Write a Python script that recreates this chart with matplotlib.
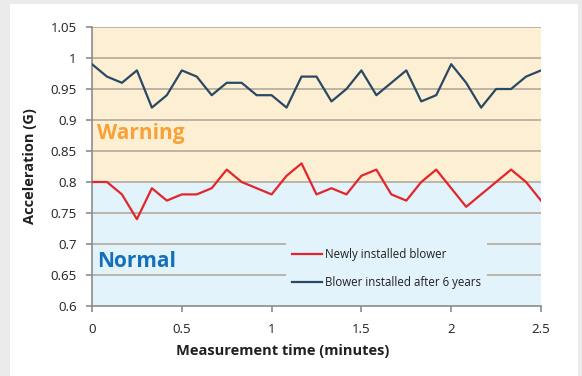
import numpy as np
import matplotlib

matplotlib.use("Agg")
import matplotlib.pyplot as plt

# Sampled every 5 s (1/12 minute) from 0 to 2.5 minutes
time_min = np.arange(31) / 12
new_blower = [0.80, 0.80, 0.78, 0.74, 0.79, 0.77, 0.78, 0.78, 0.79, 0.82, 0.80,
              0.79, 0.78, 0.81, 0.83, 0.78, 0.79, 0.78, 0.81, 0.82, 0.78, 0.77,
              0.80, 0.82, 0.79, 0.76, 0.78, 0.80, 0.82, 0.80, 0.77]
old_blower = [0.99, 0.97, 0.96, 0.98, 0.92, 0.94, 0.98, 0.97, 0.94, 0.96, 0.96,
              0.94, 0.94, 0.92, 0.97, 0.97, 0.93, 0.95, 0.98, 0.94, 0.96, 0.98,
              0.93, 0.94, 0.99, 0.96, 0.92, 0.95, 0.95, 0.97, 0.98]
series_labels = ["Newly installed blower", "Blower installed after 6 years"]
threshold = 0.8

RED = "#e3262b"
NAVY = "#2a4963"
WARN_BG = "#fdefd4"
NORM_BG = "#e2f3fc"
GRID = "#b2aa9c"
TEXT = "#231f20"

plt.rcParams["font.family"] = ["Open Sans", "DejaVu Sans"]

fig = plt.figure(figsize=(5.82, 3.76), dpi=100, facecolor="#ebebeb")
# white panel behind the chart
fig.patches.append(plt.Rectangle((10 / 582, 0), 568 / 582, 372 / 376,
                                 transform=fig.transFigure, facecolor="white",
                                 edgecolor="none", zorder=-5))
ax = fig.add_axes([92 / 582, (376 - 306) / 376, 449 / 582, 279 / 376])
ax.set_xlim(0, 2.5)
ax.set_ylim(0.6, 1.05)

ax.axhspan(threshold, 1.05, color=WARN_BG, zorder=0)
ax.axhspan(0.6, threshold, color=NORM_BG, zorder=0)

yticks = np.round(np.arange(0.6, 1.051, 0.05), 2)
for y in yticks[1:]:
    ax.axhline(y, color=GRID, lw=1.2, zorder=1)

ax.plot(time_min, new_blower, color=RED, lw=1.6, label=series_labels[0], zorder=3)
ax.plot(time_min, old_blower, color=NAVY, lw=1.6, label=series_labels[1], zorder=3)

ax.text(0.03, 0.879, "Warning", color="#f7a136", fontsize=15, fontweight="bold",
        va="center", ha="left")
ax.text(0.03, 0.671, "Normal", color="#1470b8", fontsize=15, fontweight="bold",
        va="center", ha="left")

ax.set_xticks([0, 0.5, 1, 1.5, 2, 2.5])
ax.set_xticklabels(["0", "0.5", "1", "1.5", "2", "2.5"])
ax.set_yticks(yticks)
ax.set_yticklabels(["0.6", "0.65", "0.7", "0.75", "0.8", "0.85", "0.9", "0.95", "1", "1.05"])
ax.tick_params(colors="#8c8c8c", labelcolor=TEXT, labelsize=9.5, length=4, width=1.2)
ax.tick_params(axis="x", pad=8)
ax.tick_params(axis="y", pad=7)
for side in ["top", "right"]:
    ax.spines[side].set_visible(False)
for side in ["left", "bottom"]:
    ax.spines[side].set_color("#8c8c8c")
    ax.spines[side].set_linewidth(1.2)

ax.set_xlabel("Measurement time (minutes)", fontsize=10.5, fontweight="bold",
              color=TEXT)
ax.xaxis.set_label_coords((283 - 92) / 449, -0.135)
ax.set_ylabel("Acceleration (G)", fontsize=10.5, fontweight="bold", color=TEXT,
              labelpad=10)

leg = ax.legend(loc="center left", bbox_to_anchor=((286 - 92) / 449, 0.134),
                borderaxespad=0, frameon=True, fontsize=8.3, handlelength=2.6,
                handletextpad=0.2, labelspacing=1.3, borderpad=0.55)
leg.get_frame().set_facecolor(NORM_BG)
leg.get_frame().set_edgecolor("none")
leg.get_frame().set_alpha(1)
leg.get_frame().set_boxstyle("square", pad=0)
leg.set_zorder(4)
for t in leg.get_texts():
    t.set_color(TEXT)

fig.savefig("out.png", dpi=100, facecolor=fig.get_facecolor())
